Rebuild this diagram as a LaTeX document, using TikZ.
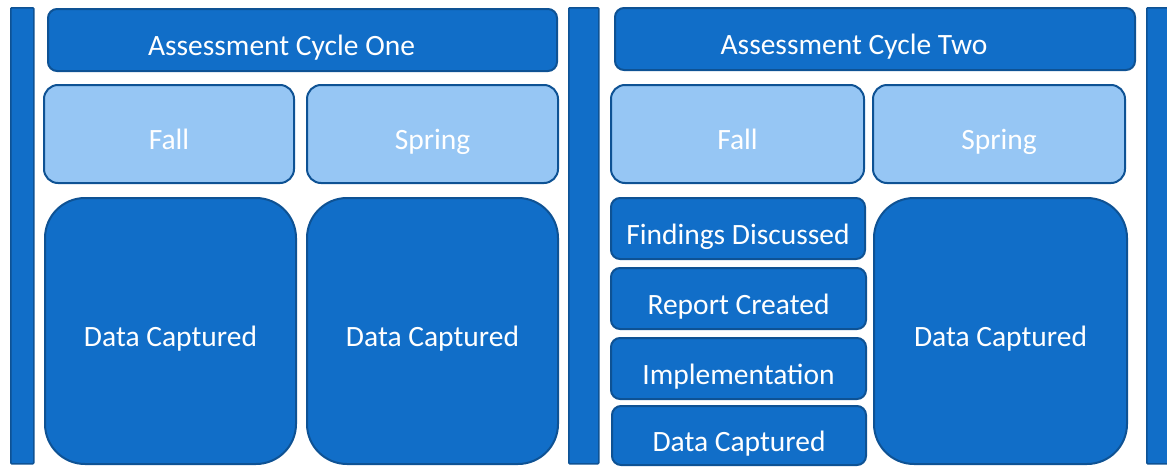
\documentclass[tikz,border=0pt]{standalone}
\usepackage{fontspec}
\setmainfont{Carlito}
\definecolor{boxblue}{RGB}{17,110,200}
\definecolor{lineblue}{RGB}{14,82,148}
\definecolor{paleblue}{RGB}{150,198,244}

\begin{document}
\begin{tikzpicture}[x=1pt, y=-1pt,
  every node/.style={anchor=north west, inner sep=0pt, font=\fontsize{29.5}{34}\selectfont, text=white, text height=31pt, text depth=0pt},
  bar/.style={draw=lineblue, fill=boxblue, line width=1.6pt, rounded corners=1pt},
  hdr/.style={draw=lineblue, fill=boxblue, line width=2pt, rounded corners=9pt, execute at end node=\hspace*{42pt}},
  term/.style={draw=lineblue, fill=paleblue, line width=2pt, rounded corners=14pt},
  bigbox/.style={draw=lineblue, fill=boxblue, line width=2pt, rounded corners=40pt},
  stepbox/.style={draw=lineblue, fill=boxblue, line width=2pt, rounded corners=9pt, minimum width=254pt, minimum height=61pt}]
\useasboundingbox (0,0) rectangle (1167,466);

% side bars
\node[bar, minimum width=23pt, minimum height=456pt] (barA) at (10,7) {};
\node[bar, minimum width=30pt, minimum height=456pt] (barB) at (568,7) {};
\node[bar, minimum width=30pt, minimum height=456pt] (barC) at (1146,7) {};

% cycle one
\node[hdr, minimum width=509pt, minimum height=62pt] (cycOne) at (47,8) {Assessment Cycle One};
\node[term, minimum width=250pt, minimum height=98pt] (fallOne) at (43,84) {Fall};
\node[term, minimum width=251pt, minimum height=98pt] (springOne) at (306,84) {Spring};
\node[bigbox, minimum width=251pt, minimum height=266pt] (dataOneA) at (44,197) {Data Captured};
\node[bigbox, minimum width=251pt, minimum height=266pt] (dataOneB) at (306,197) {Data Captured};

% cycle two
\node[hdr, minimum width=520pt, minimum height=62pt] (cycTwo) at (614,7) {Assessment Cycle Two};
\node[term, minimum width=253pt, minimum height=98pt] (fallTwo) at (610,84) {Fall};
\node[term, minimum width=252pt, minimum height=98pt] (springTwo) at (872,84) {Spring};
\node[stepbox] (findings) at (610,197) {Findings Discussed};
\node[stepbox, minimum width=255pt] (report) at (610,267) {Report Created};
\node[stepbox, minimum width=255pt] (impl) at (610,337) {Implementation};
\node[stepbox, minimum width=254pt, minimum height=59pt] (dataTwoA) at (611,405) {Data Captured};
\node[bigbox, minimum width=253pt, minimum height=266pt] (dataTwoB) at (873,197) {Data Captured};
\end{tikzpicture}
\end{document}
